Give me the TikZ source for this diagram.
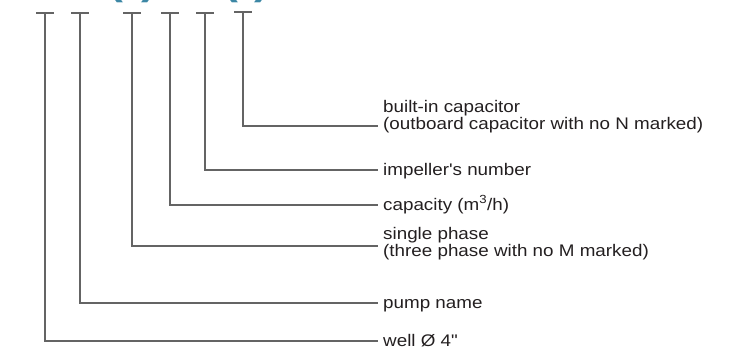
\documentclass[tikz,border=0pt]{standalone}
\usepackage{fontspec}
\setmainfont{Liberation Sans}[FakeStretch=1.12, Ligatures=TeXOff]
\definecolor{leadgray}{RGB}{100,100,100}
\definecolor{txtblack}{RGB}{35,31,32}
\definecolor{codeteal}{RGB}{60,135,165}
\tikzset{
	leader/.style={leadgray, line width=1.2pt},
	lbl/.style={anchor=base west, inner sep=0pt, align=left, text=txtblack,
		font=\fontsize{16.8}{14}\selectfont},
	paren/.style={anchor=base west, inner sep=0pt, text=codeteal,
		font=\fontsize{40}{40}\selectfont\bfseries}
}
\begin{document}
\begin{tikzpicture}[x=1pt, y=-1pt]
	\useasboundingbox (0, 0) rectangle (736, 351);
	% cut-off parentheses of the type code
	\node[paren] (mo) at (108, -5.5) {(};
	\node[paren] (mc) at (141, -5.5) {)};
	\node[paren] (no) at (223, -5.5) {(};
	\node[paren] (nc) at (254, -5.5) {)};
	% tops of the leaders
	\coordinate (t1) at (45, 13);
	\coordinate (t2) at (80, 13);
	\coordinate (t3) at (132, 13);
	\coordinate (t4) at (170, 13);
	\coordinate (t5) at (205, 13);
	\coordinate (t6) at (243, 12);
	\foreach \t in {t1, t2, t3, t4, t5, t6}
		\draw[leader] ([xshift=-9pt]\t) -- ([xshift=9pt]\t);
	% ends of the leaders
	\coordinate (e1) at (378, 341);
	\coordinate (e2) at (378, 303);
	\coordinate (e3) at (378, 246);
	\coordinate (e4) at (378, 205);
	\coordinate (e5) at (378, 170);
	\coordinate (e6) at (378, 126);
	% labels (base = last line)
	\node[lbl] (well) at (383, 346) {well Ø 4"};
	\node[lbl] (pump) at (383, 308) {pump name};
	\node[lbl] (phase) at (383, 256) {single phase\\(three phase with no M marked)};
	\node[lbl] (capa) at (383, 210) {capacity (m\textsuperscript{3}/h)};
	\node[lbl] (imp) at (383, 175) {impeller's number};
	\node[lbl] (cap) at (383, 129) {built-in capacitor\\(outboard capacitor with no N marked)};
	\draw[leader] (t1) |- (e1);
	\draw[leader] (t2) |- (e2);
	\draw[leader] (t3) |- (e3);
	\draw[leader] (t4) |- (e4);
	\draw[leader] (t5) |- (e5);
	\draw[leader] (t6) |- (e6);
\end{tikzpicture}
\end{document}
